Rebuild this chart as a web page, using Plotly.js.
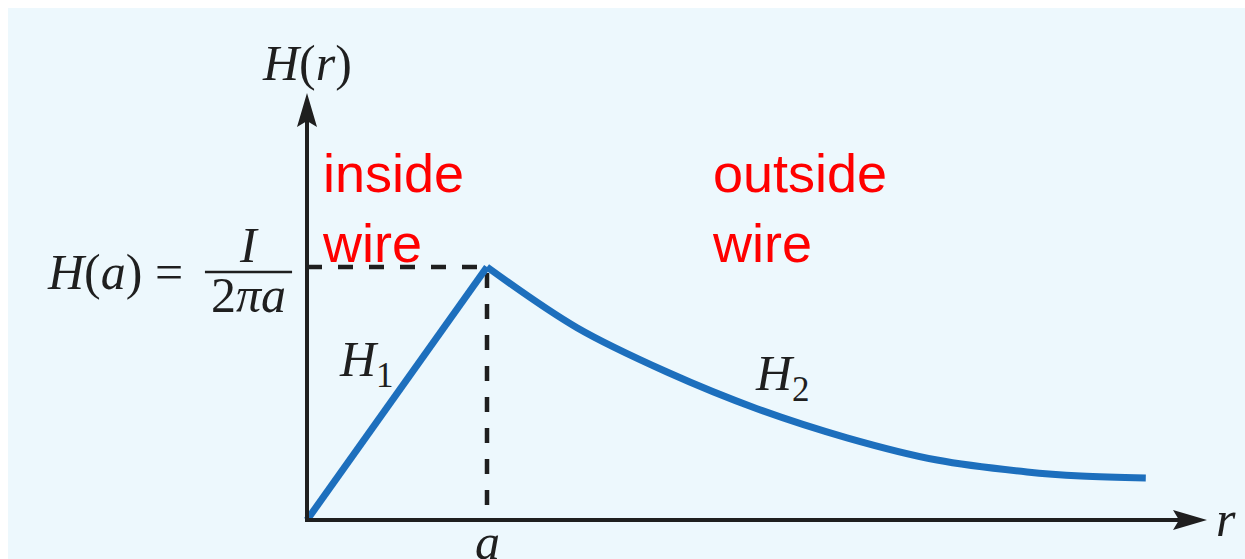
<!DOCTYPE html>
<html>
<head>
<meta charset="utf-8">
<script src="https://cdn.plot.ly/plotly-3.0.1.min.js"></script>
<style>
  html, body { margin: 0; padding: 0; background: #ffffff; }
  #chart { position: absolute; left: 8px; top: 8px; width: 1237px; height: 551px; }
</style>
</head>
<body>
<div id="chart"></div>
<script>
// Field strength H(r) of a long straight wire of radius a, in units of H(a) = I/(2πa)
const wireRadius = 1;          // r = a
const peakField = 1;           // H(a)

// inside the wire: H1 grows linearly from the axis to the surface
const insideR = [0, 1];
const insideH = [0, 1];

// outside the wire: H2 falls off with distance
const outsideR = [1, 1.5, 2.0, 2.5, 3.0, 3.5, 4.0, 4.3, 4.66];
const outsideH = [1, 0.76, 0.585, 0.44, 0.325, 0.237, 0.19, 0.174, 0.166];

const blue = '#1d6fbd';
const ink = '#1f1f1f';
const serif = 'Liberation Serif, Times New Roman, serif';
const sans = 'Liberation Sans, Arial, sans-serif';

const traces = [
  {
    // guide lines marking the wire surface and H(a)
    x: [0, wireRadius, wireRadius],
    y: [peakField, peakField, 0],
    mode: 'lines',
    line: {color: ink, width: 4.5, dash: '15px,16px'},
    hoverinfo: 'skip'
  },
  {
    x: insideR, y: insideH,
    mode: 'lines',
    line: {color: blue, width: 7},
    hoverinfo: 'skip'
  },
  {
    x: outsideR, y: outsideH,
    mode: 'lines',
    line: {color: blue, width: 7, shape: 'spline', smoothing: 1},
    hoverinfo: 'skip'
  }
];

const axisEndR = 5;
const axisEndH = 1.688;

const shapes = [
  // r axis
  {type: 'line', xref: 'x', yref: 'y', x0: -0.01, y0: 0, x1: axisEndR - 0.12, y1: 0,
   line: {color: ink, width: 4}},
  {type: 'path', xref: 'x', yref: 'y', xsizemode: 'pixel', ysizemode: 'pixel',
   xanchor: axisEndR, yanchor: 0,
   path: 'M0,0 L-34,10 L-28,0 L-34,-10 Z',
   fillcolor: ink, line: {width: 0}},
  // H axis
  {type: 'line', xref: 'x', yref: 'y', x0: 0, y0: -0.008, x1: 0, y1: axisEndH - 0.1,
   line: {color: ink, width: 4}},
  {type: 'path', xref: 'x', yref: 'y', xsizemode: 'pixel', ysizemode: 'pixel',
   xanchor: 0, yanchor: axisEndH,
   path: 'M0,0 L-10,-34 L0,-28 L10,-34 Z',
   fillcolor: ink, line: {width: 0}},
  // fraction bar of I/(2πa)
  {type: 'line', xref: 'x', yref: 'y', x0: -0.567, x1: -0.083, y0: 0.98, y1: 0.98,
   line: {color: ink, width: 2.5}}
];

const serifFont = {family: serif, size: 50, color: ink};
const redFont = {family: sans, size: 54, color: '#ff0000'};

const annotations = [
  {x: 0, y: 1.806, text: '<i>H</i>(<i>r</i>)', font: serifFont},
  {x: -0.678, y: 0.98, xanchor: 'right', text: '<i>H</i>(<i>a</i>) =', font: serifFont},
  {x: -0.325, y: 1.087, text: '<i>I</i>', font: serifFont},
  {x: -0.325, y: 0.89, text: '2<i>πa</i>', font: serifFont},
  {x: 0.167, y: 0.62, xanchor: 'left', text: '<i>H</i><sub>1</sub>', font: serifFont},
  {x: 2.478, y: 0.565, xanchor: 'left', text: '<i>H</i><sub>2</sub>', font: serifFont},
  {x: wireRadius, y: -0.088, text: '<i>a</i>', font: serifFont},
  {x: 5.105, y: 0.005, text: '<i>r</i>', font: serifFont},
  {x: 0.072, y: 1.233, xanchor: 'left', align: 'left', text: 'inside<br>wire', font: redFont},
  {x: 2.239, y: 1.233, xanchor: 'left', align: 'left', text: 'outside<br>wire', font: redFont}
].map(a => Object.assign({xref: 'x', yref: 'y', showarrow: false, yanchor: 'middle'}, a));

// the plot area fills the whole panel: r = 0 sits 299 px from the left edge at 180 px per unit,
// H = 0 sits 512 px from the top at 253 px per unit
const layout = {
  width: 1237,
  height: 551,
  margin: {l: 0, r: 0, t: 0, b: 0, pad: 0},
  paper_bgcolor: '#edf8fd',
  plot_bgcolor: 'rgba(0,0,0,0)',
  showlegend: false,
  xaxis: {range: [-299 / 180, 938 / 180], visible: false, fixedrange: true},
  yaxis: {range: [-39 / 253, 512 / 253], visible: false, fixedrange: true},
  shapes: shapes,
  annotations: annotations
};

Plotly.newPlot('chart', traces, layout, {displayModeBar: false, staticPlot: true});
</script>
</body>
</html>
